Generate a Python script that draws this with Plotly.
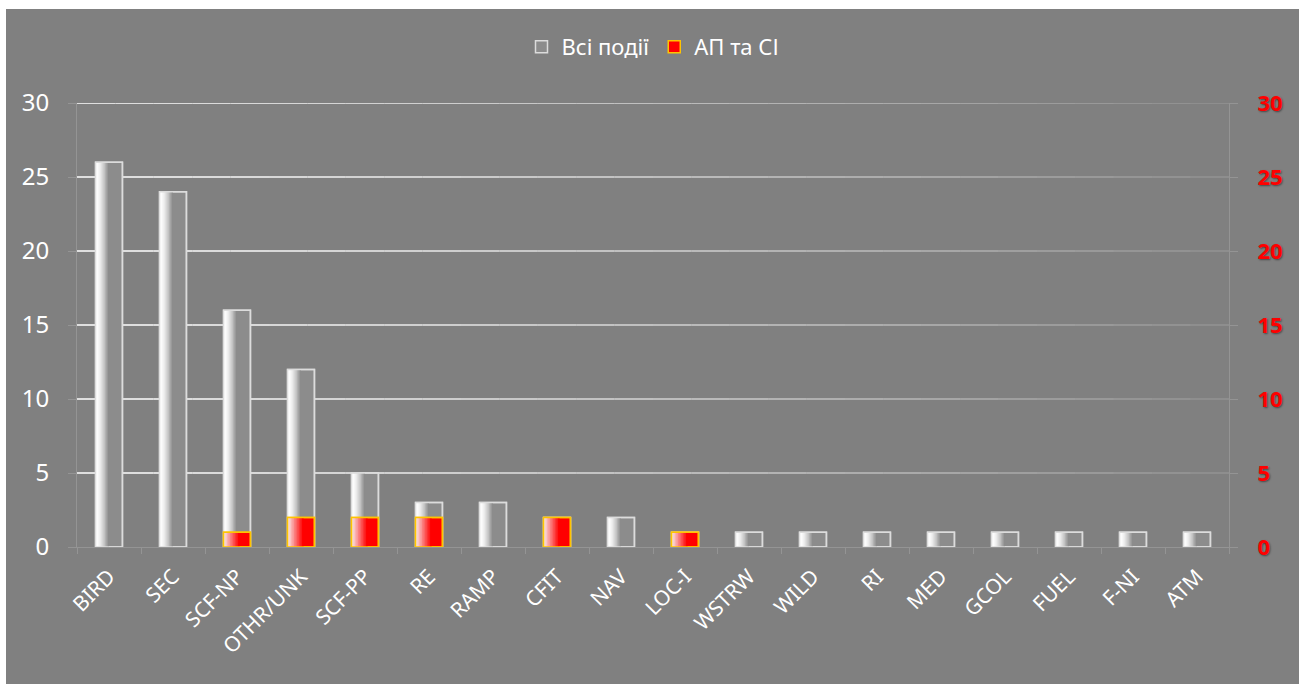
import plotly.graph_objects as go

categories = ["BIRD", "SEC", "SCF-NP", "OTHR/UNK", "SCF-PP", "RE", "RAMP", "CFIT", "NAV",
              "LOC-I", "WSTRW", "WILD", "RI", "MED", "GCOL", "FUEL", "F-NI", "ATM"]
all_events = [26, 24, 16, 12, 5, 3, 3, 2, 2, 1, 1, 1, 1, 1, 1, 1, 1, 1]
ap_si = [0, 0, 1, 2, 2, 2, 0, 2, 0, 1, 0, 0, 0, 0, 0, 0, 0, 0]
yticks = [0, 5, 10, 15, 20, 25, 30]

W, H = 1306, 684
ML, MR, MT, MB = 77, 77, 103, 137
PW, PH = W - ML - MR, H - MT - MB
BG = "#808080"
BW = 0.42  # bar width in category units


def lerp(c1, c2, t):
    return "rgb(%d,%d,%d)" % tuple(round(a + (b - a) * t) for a, b in zip(c1, c2))


fig = go.Figure()


def gradient_bar(vals, yaxis, start, end, frac, expo, base_col, line_col, name):
    vals = [v if v else None for v in vals]
    # base bar (full width) carries the legend entry
    fig.add_trace(go.Bar(x=categories, y=vals, width=BW, offset=-BW / 2, yaxis=yaxis,
                         marker=dict(color=base_col, line=dict(color=line_col, width=1.5)),
                         name=name, showlegend=True, hoverinfo="skip"))
    # nested bars anchored at the left edge: widest/darkest first, narrowest/lightest last
    n = 10
    for k in range(n):
        w = BW * frac * (n - k) / n
        t = (n - 1 - k) / (n - 1)
        fig.add_trace(go.Bar(x=categories, y=vals, width=w, offset=-BW / 2,
                             yaxis=yaxis, marker=dict(color=lerp(start, end, t ** expo), line=dict(width=0)),
                             showlegend=False, hoverinfo="skip"))
    fig.add_trace(go.Bar(x=categories, y=vals, width=BW, offset=-BW / 2, yaxis=yaxis,
                         marker=dict(color="rgba(0,0,0,0)", line=dict(color=line_col, width=1.5)),
                         showlegend=False, hoverinfo="skip"))


gradient_bar(all_events, "y", (255, 255, 255), (140, 140, 140), 0.5, 1.6, "#8c8c8c", "#dcdcdc", "Всі події")
gradient_bar(ap_si, "y2", (248, 228, 228), (255, 0, 0), 0.6, 1.0, "#ff0000", "#ffc400", "АП та СІ")

shapes = [dict(type="rect", xref="paper", yref="paper",
               x0=(6 - ML) / PW, x1=(1299 - ML) / PW,
               y0=(MT + PH - 684) / PH, y1=(MT + PH - 9) / PH,
               fillcolor=BG, line=dict(width=0), layer="below")]
nseg = 30
for v in yticks[1:]:
    for k in range(nseg):
        a = 1.0 - 0.85 * (k / (nseg - 1)) ** 1.3
        shapes.append(dict(type="line", xref="paper", yref="y",
                           x0=k / nseg, x1=(k + 1) / nseg, y0=v, y1=v,
                           line=dict(color="rgba(255,255,255,%.3f)" % a, width=1.6),
                           layer="below"))

axcol = "#949494"
fig.update_layout(
    width=W, height=H,
    margin=dict(l=ML, r=MR, t=MT, b=MB, pad=0),
    paper_bgcolor="white", plot_bgcolor="rgba(0,0,0,0)",
    barmode="overlay",
    shapes=shapes,
    font=dict(family="Noto Sans", color="white"),
    legend=dict(orientation="h", x=0.5, xanchor="center", y=(PH + MT - 47) / PH, yanchor="middle",
                font=dict(size=22, color="white"), bgcolor="rgba(0,0,0,0)", itemwidth=30),
    xaxis=dict(type="category", tickangle=-45, tickfont=dict(size=21, color="white"),
               showgrid=False, showline=True, linecolor=axcol, linewidth=1,
               ticks="outside", tickson="boundaries", ticklen=6, tickcolor=axcol,
               ticklabelstandoff=8,
               range=[-0.5, len(categories) - 0.5]),
    yaxis=dict(range=[0, 30], tickvals=yticks, showgrid=False, zeroline=False,
               showline=True, linecolor=axcol, ticks="outside", ticklen=8, tickcolor=axcol,
               tickfont=dict(size=24, color="white"), ticklabelstandoff=14),
    yaxis2=dict(range=[0, 30], tickvals=yticks, overlaying="y", side="right",
                showgrid=False, zeroline=False, showline=True, linecolor=axcol,
                ticks="outside", ticklen=8, tickcolor=axcol,
                tickfont=dict(size=22, color="#ff0000", weight="bold",
                              shadow="1px 1px 2px rgba(0,0,0,0.45)"),
                ticklabelstandoff=15),
)

fig.write_html("out.html")
